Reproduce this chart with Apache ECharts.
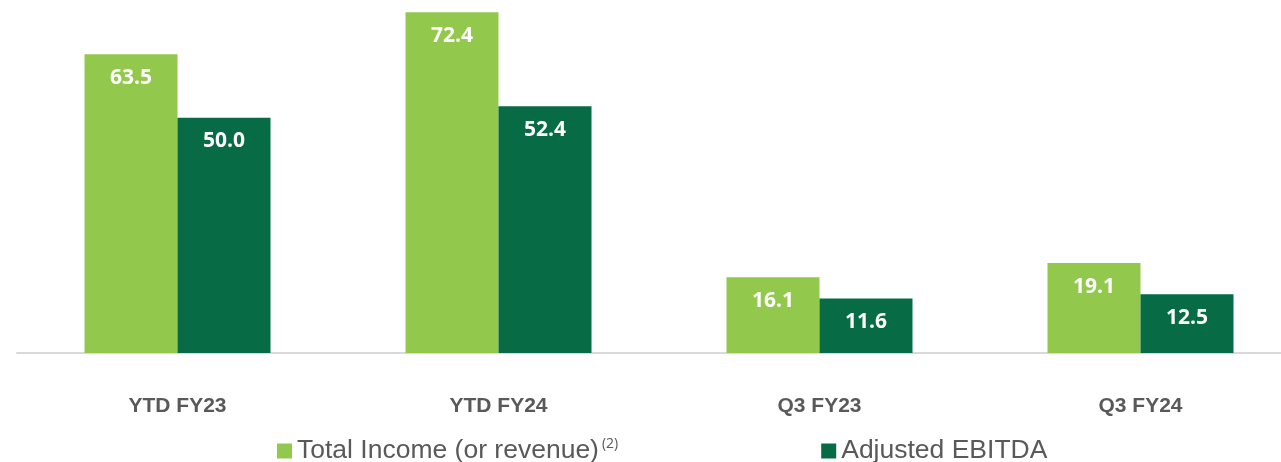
<!DOCTYPE html>
<html>
<head>
    <meta charset="utf-8">
    <title>ECharts</title>
    <script src="https://cdn.jsdelivr.net/npm/echarts@6/dist/echarts.min.js"></script>
    <style>
        html, body { margin: 0; padding: 0; background: #ffffff; overflow: hidden; }
    </style>
</head>
<body>
    <!-- the plot runs a little past the right edge of the window, as in the original slide -->
    <div id="main" style="width:1301px;height:462px;"></div>
    <script type="text/javascript">
        // data
        var categories = ["YTD FY23", "YTD FY24", "Q3 FY23", "Q3 FY24"];
        var totalIncome = [63.5, 72.4, 16.1, 19.1];
        var adjustedEbitda = [50.0, 52.4, 11.6, 12.5];
        var seriesNames = ["Total Income (or revenue)", "Adjusted EBITDA"];

        var myChart = echarts.init(document.getElementById("main"));

        var barLabel = {
            show: true,
            position: "insideTop",
            distance: 13,
            color: "#ffffff",
            fontFamily: "Open Sans",
            fontWeight: "bold",
            fontSize: 21,
            formatter: function (p) {
                return p.value.toFixed(1);
            }
        };

        var option = {
            animation: false,
            grid: {
                left: 17,
                right: 0,
                top: 0,
                bottom: 109,
                containLabel: false
            },
            legend: {
                data: seriesNames,
                left: 277,
                top: 437,
                padding: 0,
                itemGap: 203,
                itemWidth: 15,
                itemHeight: 15,
                icon: "rect",
                textStyle: {
                    fontFamily: "Liberation Sans",
                    fontSize: 26.5,
                    color: "#595959",
                    rich: {
                        sup: {
                            fontFamily: "Open Sans",
                            fontSize: 14,
                            color: "#595959",
                            padding: [0, 0, 14, 3]
                        }
                    }
                },
                formatter: function (name) {
                    if (name === seriesNames[0]) {
                        return name + "{sup|(2)}";
                    }
                    return name;
                }
            },
            xAxis: {
                type: "category",
                data: categories,
                axisLine: {
                    show: true,
                    lineStyle: { color: "#d9d9d9", width: 2 }
                },
                axisTick: { show: false },
                axisLabel: {
                    margin: 43,
                    color: "#595959",
                    fontFamily: "Liberation Sans",
                    fontWeight: "bold",
                    fontSize: 21
                }
            },
            yAxis: {
                type: "value",
                min: 0,
                max: 75,
                show: false,
                splitLine: { show: false }
            },
            series: [{
                name: seriesNames[0],
                type: "bar",
                data: totalIncome,
                barWidth: 93,
                barGap: "0%",
                itemStyle: { color: "#92c84b" },
                label: barLabel
            }, {
                name: seriesNames[1],
                type: "bar",
                data: adjustedEbitda,
                barWidth: 93,
                barGap: "0%",
                itemStyle: { color: "#076b46" },
                label: barLabel
            }]
        };
        myChart.setOption(option);
    </script>
</body>
</html>
